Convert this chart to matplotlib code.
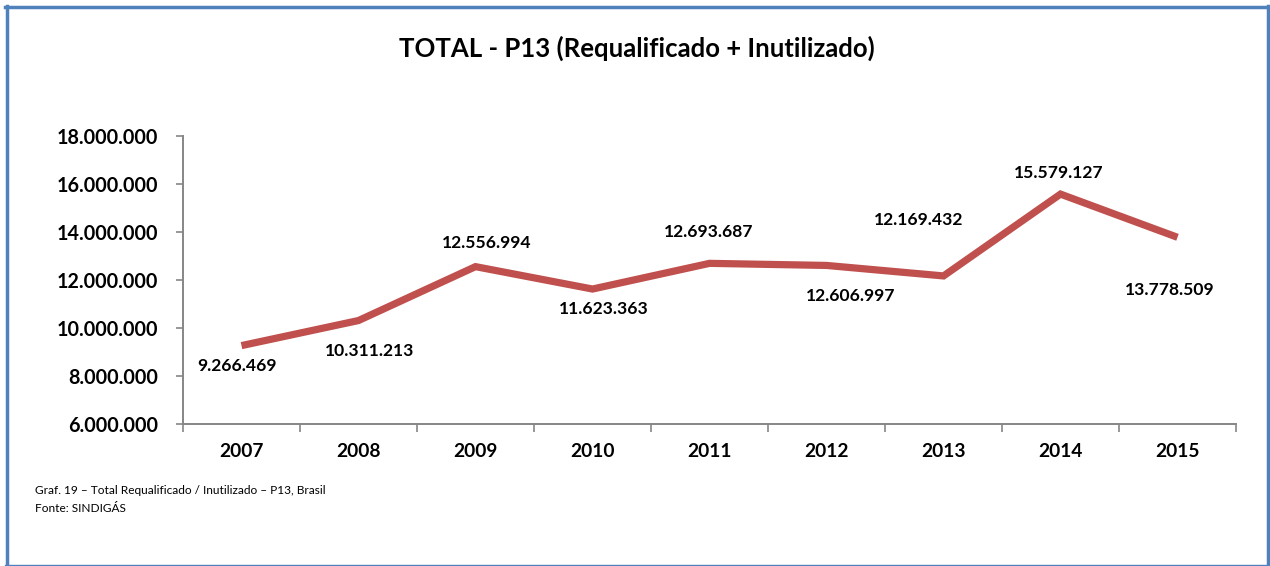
import matplotlib
matplotlib.use("Agg")
import matplotlib.pyplot as plt
from matplotlib.lines import Line2D

years = ["2007", "2008", "2009", "2010", "2011", "2012", "2013", "2014", "2015"]
values = [9266469, 10311213, 12556994, 11623363, 12693687, 12606997, 12169432, 15579127, 13778509]
ytick_vals = [6000000, 8000000, 10000000, 12000000, 14000000, 16000000, 18000000]
# label offsets in pixels (dx, dy)
label_offsets = [(-5, -20), (11, -30), (11, 24), (11, -20), (-1, 31), (24, -31), (-25, 56), (-2, 21), (-8, -53)]

plt.rcParams['font.family'] = ['Lato', 'DejaVu Sans']

W, H = 1270, 566
fig = plt.figure(figsize=(W / 100, H / 100), dpi=100)
fig.patch.set_facecolor("white")

ax = fig.add_axes([183 / W, 1 - 424 / H, (1236 - 183) / W, (424 - 136) / H])
x = list(range(len(years)))
ax.plot(x, values, color="#C0504D", lw=5.2, solid_capstyle="butt", solid_joinstyle="miter")

def fmt(v):
    return f"{v:,}".replace(",", ".")

for xi, v, (dx, dy) in zip(x, values, label_offsets):
    ax.annotate(fmt(v), (xi, v), xytext=(dx, dy), textcoords="offset pixels",
                ha="center", va="center", fontsize=12.6, fontweight="bold", color="black")

ax.set_xlim(-0.5, len(years) - 0.5)
ax.set_ylim(6000000, 18000000)
ax.set_yticks(ytick_vals)
ax.set_yticklabels([fmt(v) for v in ytick_vals], fontsize=14.2, fontweight="bold")
ax.set_xticks([i - 0.5 for i in range(len(years) + 1)])
ax.set_xticklabels([])
ax.set_xticks(x, minor=True)
ax.set_xticklabels(years, minor=True, fontsize=13.8, fontweight="bold")
ax.tick_params(axis="x", which="major", length=6, width=1.2, color="#868686", direction="out")
ax.tick_params(axis="x", which="minor", length=0, pad=13.5)
ax.tick_params(axis="y", length=5, width=1.2, color="#868686", direction="out", pad=13)
for s in ["top", "right"]:
    ax.spines[s].set_visible(False)
for s in ["left", "bottom"]:
    ax.spines[s].set_color("#868686")
    ax.spines[s].set_linewidth(1.4)

fig.text(637 / W, 1 - 48 / H, "TOTAL - P13 (Requalificado + Inutilizado)", ha="center", va="center",
         fontsize=18.5, fontweight="bold")
fig.text(35 / W, 1 - 491 / H, "Graf. 19 – Total Requalificado / Inutilizado – P13, Brasil",
         ha="left", va="center", fontsize=8.6)
fig.text(35 / W, 1 - 508 / H, "Fonte: SINDIGÁS", ha="left", va="center", fontsize=8.6)

blue = "#4F81BD"
fig.add_artist(Line2D([6.5 / W, 6.5 / W], [0, 1 - 6 / H], transform=fig.transFigure, color=blue, lw=2.5))
fig.add_artist(Line2D([5 / W, 1268 / W], [1 - 7 / H, 1 - 7 / H], transform=fig.transFigure, color=blue, lw=2.5))
fig.add_artist(Line2D([1267.5 / W, 1267.5 / W], [0, 1 - 6 / H], transform=fig.transFigure, color=blue, lw=2.5))
fig.add_artist(Line2D([5 / W, 1268 / W], [1 - 565 / H, 1 - 565 / H], transform=fig.transFigure, color=blue, lw=1))

fig.savefig("out.png", dpi=100)
